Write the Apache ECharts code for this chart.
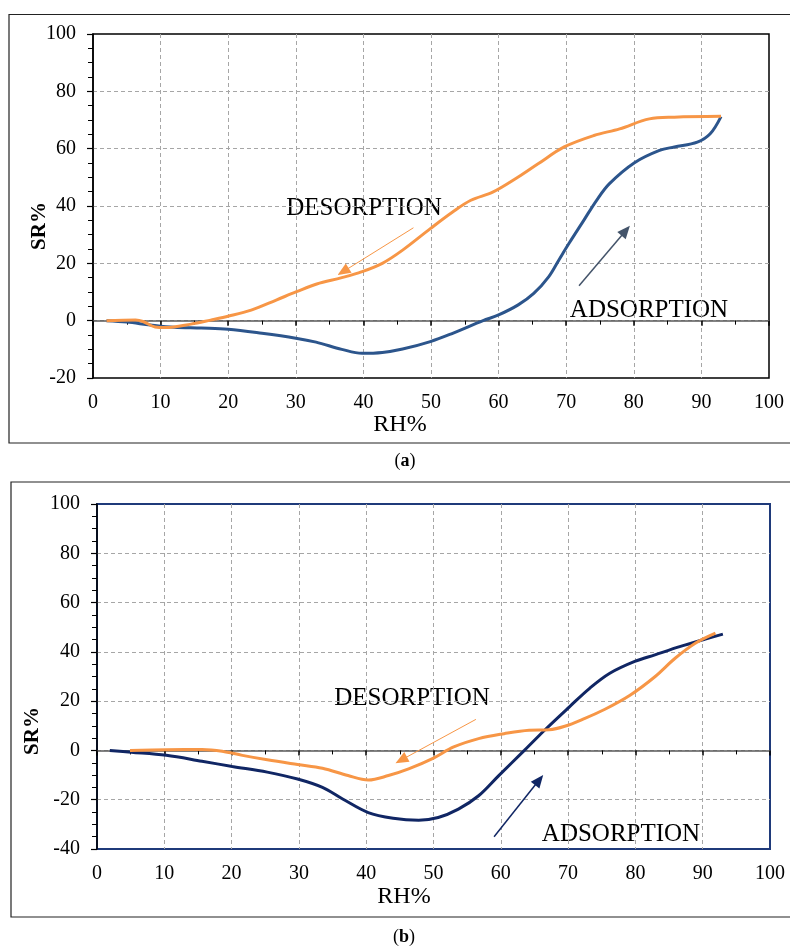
<!DOCTYPE html>
<html>
<head>
<meta charset="utf-8">
<script src="https://cdn.jsdelivr.net/npm/echarts@6/dist/echarts.min.js"></script>
<style>
  html, body { margin: 0; padding: 0; background: #fff; }
  #sorption { width: 790px; height: 947px; }
</style>
</head>
<body>
<div id="sorption"></div>
<script>
// (a) sample: [RH%, SR%] pairs
var adsA = [[2, 0], [5, -0.5], [8.5, -1.5], [12, -2.3], [16, -2.6], [20, -3], [25, -4.4], [30, -6.1], [33, -7.5],
    [36.8, -10], [39.8, -11.4], [42.8, -11.1], [45.8, -9.9], [49.9, -7.3], [53.2, -4.4], [57.7, 0], [60, 2],
    [62.9, 5.5], [65.2, 9.5], [67.4, 15.3], [68.9, 21.1], [70.4, 26.9], [72.6, 35], [74.5, 42], [76.4, 47.8],
    [80.1, 55.1], [83.8, 59.4], [86, 60.6], [89.4, 62.3], [91.3, 65.2], [92.9, 71.2]];
var desA = [[2, 0], [6.3, 0.2], [7.4, -0.3], [9.2, -2.2], [10.7, -2.4], [14.5, -1.2], [17.4, 0.2], [20.1, 1.6],
    [23.4, 3.7], [27.1, 7.2], [30.1, 10.1], [33.1, 12.8], [36.8, 15], [39.8, 17.1], [42.8, 20], [45.8, 24.6],
    [49.9, 32.1], [53.2, 37.9], [55.9, 42], [59.2, 44.9], [62.9, 50.1], [65.9, 54.8], [69.7, 60.6], [74.1, 64.6],
    [77.9, 66.9], [82.3, 70.4], [86, 71], [92.9, 71.3]];

// (b) sample
var adsB = [[1.9, 0], [5.1, -0.7], [10.3, -2], [15.6, -4.4], [20.1, -6.5], [25.3, -8.8], [29.8, -11.6],
    [33.5, -15], [36.5, -19.7], [40.3, -25.2], [44, -27.5], [47.8, -28.3], [50.7, -27.2], [53.7, -23.8],
    [56.7, -18.4], [59.7, -10.2], [63.5, 0], [66.5, 8.2], [70.2, 17.7], [73.2, 25.2], [76.2, 31.3], [79.9, 36.1],
    [82.9, 38.8], [86.7, 42.2], [90.4, 45.2], [93, 47.2]];
var desB = [[4.9, 0], [10.3, 0.3], [15.6, 0.4], [18.6, -0.3], [21.6, -2], [25.3, -3.8], [29.8, -5.7],
    [33.5, -7.2], [37.3, -10.2], [40.3, -12], [43.3, -10.2], [46.3, -7.5], [50, -3.1], [53, 1.4], [56.7, 4.8],
    [60.5, 6.8], [64.2, 8.2], [67.2, 8.4], [69.5, 9.8], [72.4, 12.9], [75.4, 16.6], [79.2, 22.4], [82.9, 29.9],
    [85.9, 37.4], [88.9, 43.5], [91.9, 47.6]];

// annotation arrows [from, to] in data units
var arrowDesA = [[47.4, 32.4], [37, 17.1]];
var arrowAdsA = [[71.9, 12.2], [78.8, 31.4]];
var arrowDesB = [[56.3, 12.6], [45.2, -3.9]];
var arrowAdsB = [[59, -35], [65.7, -12]];

var yRangeA = [-20, 100];
var yRangeB = [-40, 100];

var serif = '"Liberation Serif", "Times New Roman", serif';
var orange = '#f79646';
var blueA = '#2c558c';
var navyB = '#102664';
var gridGray = '#a6a6a6';

var chart = echarts.init(document.getElementById('sorption'));

function arrow(pts, color, width) {
    return {
        silent: true,
        animation: false,
        label: { show: false },
        emphasis: { disabled: true },
        lineStyle: { color: color, width: width, type: 'solid' },
        symbolSize: [11, 13],
        data: [[
            { coord: pts[0], symbol: 'none' },
            { coord: pts[1], symbol: 'triangle' }
        ]]
    };
}

// bottom axis: only labels + vertical dashed grid
function xLabelAxis(grid) {
    return {
        type: 'value', gridIndex: grid, min: 0, max: 100, interval: 10, position: 'bottom',
        axisLine: { show: false, onZero: false },
        axisTick: { show: false },
        axisLabel: { margin: 15, fontFamily: serif, fontSize: 20, color: '#000' },
        splitLine: { show: true, showMinLine: false, showMaxLine: false,
            lineStyle: { color: gridGray, type: [4, 3], width: 1 } }
    };
}

// the horizontal axis line that sits at SR = 0, ticks hanging below it
function xZeroAxis(grid) {
    return {
        type: 'value', gridIndex: grid, min: 0, max: 100, interval: 10, position: 'top',
        axisLine: { show: true, onZero: true, onZeroAxisIndex: grid, lineStyle: { color: '#595959', width: 1.5 } },
        axisTick: { show: true, inside: true, length: 5, lineStyle: { color: '#000', width: 1.5 } },
        minorTick: { show: true, splitNumber: 2, length: 4, lineStyle: { color: '#000', width: 1 } },
        axisLabel: { show: false },
        splitLine: { show: false }
    };
}

function yAxis(grid, range) {
    return {
        type: 'value', gridIndex: grid, min: range[0], max: range[1], interval: 20,
        axisLine: { show: true, onZero: false, lineStyle: { color: '#000', width: 1.5 } },
        axisTick: { show: true, length: 6, lineStyle: { color: '#000', width: 1.2 } },
        minorTick: { show: true, splitNumber: 4, length: 5, lineStyle: { color: '#000', width: 1 } },
        axisLabel: { margin: 17, fontFamily: serif, fontSize: 20, color: '#000' },
        splitLine: { show: true, showMinLine: false, showMaxLine: false,
            lineStyle: { color: gridGray, type: [4, 3], width: 1 } }
    };
}

function curve(name, data, color, xi, yi, mark) {
    return {
        name: name, type: 'line', xAxisIndex: xi, yAxisIndex: yi, data: data,
        smooth: 0.35, showSymbol: false, symbol: 'none',
        lineStyle: { color: color, width: 3 },
        itemStyle: { color: color },
        markLine: mark
    };
}

function txt(x, y, s, opts) {
    opts = opts || {};
    return {
        type: 'text', x: x, y: y, rotation: opts.rotation || 0,
        style: {
            text: s, fill: '#000', align: 'center', verticalAlign: 'middle',
            font: (opts.weight || 'normal') + ' ' + (opts.size || 24) + 'px ' + serif
        }
    };
}

function caption(x, y, letter) {
    return {
        type: 'text', x: x, y: y,
        style: {
            text: '({b|' + letter + '})', align: 'center', verticalAlign: 'middle',
            font: '18px ' + serif, fill: '#000',
            rich: { b: { fontWeight: 'bold', fontSize: 18, fontFamily: serif } }
        }
    };
}

var option = {
    animation: false,
    backgroundColor: '#fff',
    grid: [
        { left: 93, top: 34, right: 21, bottom: 569, show: true, borderColor: '#000', borderWidth: 1.5, backgroundColor: 'transparent' },
        { left: 97, top: 504, right: 20, bottom: 98, show: true, borderColor: '#1f3a7a', borderWidth: 2, backgroundColor: 'transparent' }
    ],
    xAxis: [xLabelAxis(0), xZeroAxis(0), xLabelAxis(1), xZeroAxis(1)],
    yAxis: [yAxis(0, yRangeA), yAxis(1, yRangeB)],
    series: [
        curve('ADSORPTION', adsA, blueA, 0, 0, arrow(arrowAdsA, '#44546a', 1.5)),
        curve('DESORPTION', desA, orange, 0, 0, arrow(arrowDesA, orange, 1)),
        curve('ADSORPTION', adsB, navyB, 2, 1, arrow(arrowAdsB, navyB, 1.5)),
        curve('DESORPTION', desB, orange, 2, 1, arrow(arrowDesB, orange, 1))
    ],
    graphic: [
        { type: 'rect', shape: { x: 9, y: 14.5, width: 782, height: 428.5 }, style: { fill: 'none', stroke: '#222', lineWidth: 1.2 } },
        { type: 'rect', shape: { x: 11, y: 482, width: 780, height: 435 }, style: { fill: 'none', stroke: '#222', lineWidth: 1.2 } },
        txt(40, 226, 'SR%', { weight: 'bold', size: 21, rotation: Math.PI / 2 }),
        txt(400, 425, 'RH%', { size: 24 }),
        txt(364, 208, 'DESORPTION', { size: 25 }),
        txt(649, 310, 'ADSORPTION', { size: 25 }),
        txt(33, 731, 'SR%', { weight: 'bold', size: 21, rotation: Math.PI / 2 }),
        txt(404, 897, 'RH%', { size: 24 }),
        txt(412, 698, 'DESORPTION', { size: 25 }),
        txt(621, 834, 'ADSORPTION', { size: 25 }),
        caption(405, 461, 'a'),
        caption(404, 937, 'b')
    ]
};

chart.setOption(option);
</script>
</body>
</html>
